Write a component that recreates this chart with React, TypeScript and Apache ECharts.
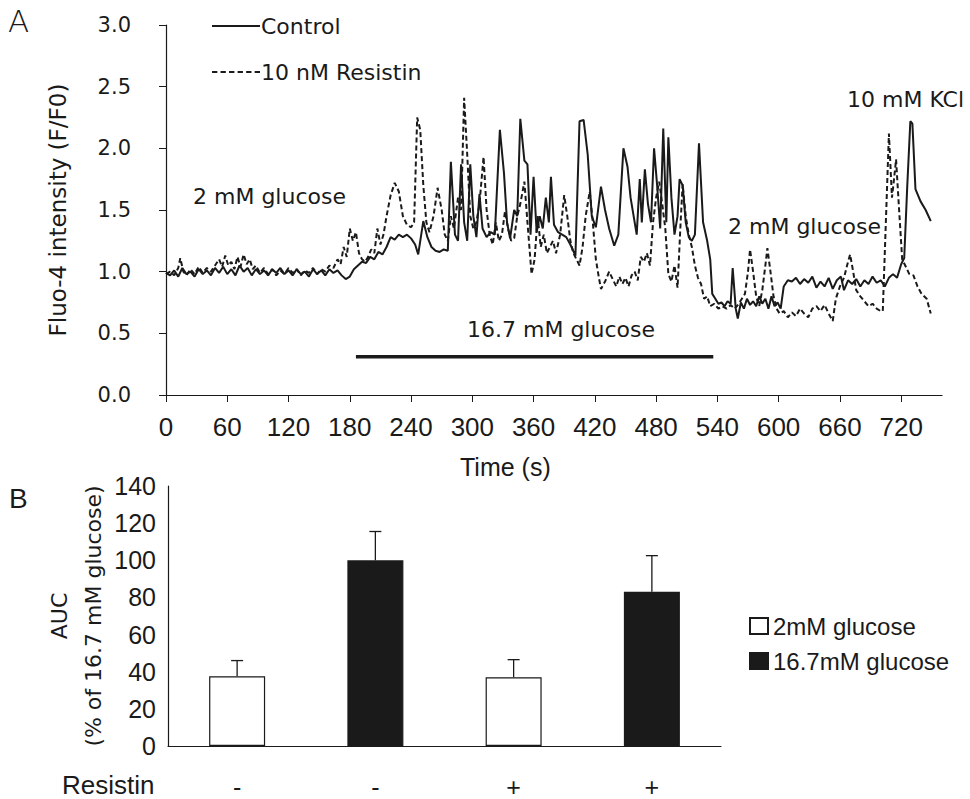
import React, { useEffect, useRef } from "react";
import * as echarts from "echarts";

// ---------- Panel A data (time in s, Fluo-4 F/F0) ----------
const controlTime = [
  0, 4, 8, 12, 16, 20, 24, 28, 32, 36, 40, 44, 48, 52, 56, 60, 64, 68, 72, 76, 80, 84, 88, 92, 96, 100,
  104, 108, 112, 116, 120, 124, 128, 132, 136, 140, 144, 148, 152, 156, 160, 164, 168, 172, 176, 180,
  184, 188, 192, 196, 200, 204, 208, 212, 216, 220, 224, 228, 232, 236, 240, 244, 247, 252, 256, 260,
  264, 268, 272, 276, 279, 283, 286, 289, 292, 295, 298, 301, 304, 307, 310, 314, 318, 322, 327, 331,
  334, 337, 341, 344, 347, 351, 354, 357, 360, 363, 366, 369, 372, 375, 377, 380, 384, 388, 392, 396,
  401, 405, 409, 413, 417, 421, 426, 430, 434, 439, 443, 448, 452, 455, 458, 461, 464, 466, 469, 472,
  475, 478, 481, 484, 487, 490, 492, 495, 498, 501, 503, 506, 509, 512, 515, 518, 522, 526, 530, 533,
  535, 538, 541, 544, 547, 550, 553, 555, 558, 560, 563, 566, 569, 572, 575, 578, 581, 584, 587, 590,
  593, 596, 599, 602, 605, 609, 613, 617, 621, 625, 629, 633, 637, 641, 645, 649, 653, 657, 661, 664,
  668, 672, 676, 680, 684, 688, 692, 696, 700, 704, 708, 712, 716, 720, 723, 726, 729, 731, 734, 739,
  744, 749,
];
const controlValue = [
  0.99, 0.97, 1.01, 0.96, 1.03, 0.98, 1.0, 0.96, 1.02, 0.98, 1.01, 0.97, 1.03, 0.99, 1.04, 0.98, 1.02, 0.97, 1.05, 1.0, 1.03, 0.97, 1.02, 0.98, 1.01, 0.97,
  1.02, 0.99, 1.03, 0.98, 1.01, 0.97, 1.02, 0.98, 1.0, 0.96, 1.02, 0.98, 1.01, 0.97, 1.02, 0.99, 1.01, 0.97, 0.94, 0.96,
  1.02, 1.05, 1.08, 1.07, 1.12, 1.1, 1.16, 1.14, 1.2, 1.28, 1.26, 1.3, 1.28, 1.3, 1.27, 1.22, 1.14, 1.41, 1.28, 1.2,
  1.17, 1.16, 1.18, 1.17, 1.89, 1.3, 1.25, 1.87, 1.4, 1.25, 1.87, 1.45, 1.28, 1.63, 1.35, 1.28, 1.32, 1.3, 2.15, 1.8,
  1.4, 1.27, 1.5, 1.45, 2.24, 1.9, 1.87, 1.3, 1.77, 1.32, 1.45, 1.35, 1.6, 1.4, 1.77, 1.38, 1.32, 1.3, 1.28, 1.22,
  1.13, 2.22, 2.23, 1.95, 1.45, 1.36, 1.69, 1.5, 1.35, 1.21, 1.3, 2.0, 1.85, 1.6, 1.45, 1.3, 1.75, 1.4, 1.83, 1.55,
  1.4, 2.0, 1.7, 1.35, 2.16, 1.4, 2.09, 1.6, 1.3, 1.45, 1.75, 1.7, 1.4, 1.28, 1.25, 1.3, 2.04, 1.4, 1.25, 1.1,
  0.82, 0.78, 0.74, 0.75, 0.72, 0.76, 0.74, 1.03, 0.7, 0.62, 0.75, 0.7, 0.78, 0.73, 0.76, 0.72, 0.8, 0.74, 0.78, 0.7,
  0.8, 0.72, 0.75, 0.7, 0.88, 0.93, 0.92, 0.95, 0.9, 0.94, 0.91, 0.96, 0.87, 0.92, 0.88, 0.95, 0.86, 0.93, 0.96, 0.85,
  0.93, 0.9, 0.94, 0.88, 0.93, 0.9, 0.96, 0.91, 0.93, 0.88, 0.95, 0.98, 0.95, 1.06, 1.11, 1.7, 2.22, 2.2, 1.67, 1.57,
  1.5, 1.41,
];

const resistinTime = [
  0, 4, 8, 12, 14, 17, 20, 24, 28, 32, 36, 40, 44, 48, 52, 55, 58, 61, 64, 67, 70, 73, 76, 79, 82, 85,
  88, 92, 96, 100, 104, 108, 112, 116, 120, 124, 128, 132, 136, 140, 144, 148, 152, 156, 160, 164, 168, 171,
  174, 177, 180, 183, 186, 189, 192, 195, 198, 201, 204, 207, 210, 213, 216, 220, 224, 228, 232, 236, 240, 243,
  246, 249, 252, 255, 258, 262, 266, 270, 273, 276, 279, 282, 286, 289, 292, 295, 298, 301, 304, 307, 311, 314,
  317, 320, 323, 326, 329, 332, 335, 338, 341, 344, 347, 351, 354, 358, 361, 364, 367, 370, 373, 376, 379, 382,
  386, 390, 393, 396, 399, 402, 405, 408, 411, 415, 418, 421, 424, 426, 430, 434, 438, 441, 444, 447, 450, 453,
  456, 459, 462, 465, 468, 471, 474, 477, 480, 483, 486, 489, 492, 495, 498, 501, 504, 506, 509, 512, 515, 518,
  521, 524, 527, 530, 533, 537, 541, 545, 549, 553, 557, 561, 564, 567, 570, 572, 575, 578, 581, 584, 587, 589,
  592, 595, 598, 601, 605, 609, 613, 617, 621, 625, 629, 633, 637, 641, 645, 649, 653, 656, 660, 664, 667, 670,
  673, 676, 680, 684, 688, 692, 696, 700, 702, 705, 708, 711, 713, 715, 718, 721, 724, 728, 732, 736, 740, 745,
  749,
];
const resistinValue = [
  0.98, 1.0, 0.97, 1.03, 1.11, 1.0, 0.97, 1.02, 0.98, 1.04, 0.99, 1.03, 1.0, 1.05, 1.1, 1.04, 1.13, 1.05, 1.08, 1.02, 1.12, 1.04, 1.14, 1.06, 1.1, 1.02,
  1.05, 0.99, 1.03, 0.98, 1.02, 0.97, 1.01, 0.98, 1.03, 0.99, 1.02, 0.97, 1.01, 0.99, 1.03, 0.98, 1.02, 1.0, 1.05, 1.03, 1.1, 1.06,
  1.2, 1.12, 1.35, 1.25, 1.32, 1.15, 1.1, 1.08, 1.12, 1.18, 1.15, 1.35, 1.22, 1.3, 1.45, 1.62, 1.72, 1.65, 1.45, 1.38, 1.36, 1.4,
  2.25, 2.15, 1.7, 1.4, 1.32, 1.45, 1.68, 1.5, 1.3, 1.25, 1.45, 1.35, 1.6, 1.5, 2.41, 1.95, 1.45, 1.35, 1.4, 1.55, 1.93, 1.5,
  1.3, 1.22, 1.4, 1.25, 1.3, 1.49, 1.35, 1.25, 1.27, 1.45, 1.55, 1.73, 1.4, 0.98, 1.1, 1.45, 1.2, 1.3, 1.15, 1.2, 1.25, 1.15,
  1.3, 1.62, 1.45, 1.25, 1.15, 1.1, 1.05, 1.2, 1.45, 1.65, 1.4, 1.1, 0.95, 0.86, 0.92, 1.0, 0.93, 0.88, 0.96, 0.9, 0.95, 0.88,
  0.97, 1.0, 0.93, 1.12, 1.08, 1.15, 1.05, 1.4, 1.6, 1.73, 1.55, 1.35, 0.98, 0.92, 1.05, 0.87, 1.4, 1.71, 1.45, 1.3, 1.2, 1.05,
  0.95, 0.9, 0.78, 0.8, 0.72, 0.74, 0.7, 0.72, 0.7, 0.73, 0.7, 0.74, 0.78, 0.82, 1.0, 1.18, 1.0, 0.8, 0.72, 0.85, 1.05, 1.19,
  1.0, 0.8, 0.7, 0.66, 0.68, 0.63, 0.67, 0.64, 0.7, 0.66, 0.63, 0.7, 0.72, 0.68, 0.73, 0.66, 0.6, 0.78, 0.88, 0.95, 1.05, 1.14,
  1.0, 0.85, 0.8, 0.76, 0.72, 0.74, 0.7, 0.68, 0.68, 1.4, 2.12, 1.6, 1.75, 1.91, 1.5, 1.1, 1.05, 0.98, 0.97, 0.88, 0.82, 0.78,
  0.66,
];

// 16.7 mM glucose application period bar
const highGlucoseTime = [186, 536];
const highGlucoseLevel = [0.31, 0.31];

const timeTicks = [0, 60, 120, 180, 240, 300, 360, 420, 480, 540, 600, 660, 720];

// ---------- Panel B data ----------
const resistinCats = ["-", "-", "+", "+"];
const barGroup = ["2mM glucose", "16.7mM glucose", "2mM glucose", "16.7mM glucose"];
const aucMean = [37.5, 100, 37, 83];
const aucErr = [8.5, 15.5, 9.5, 19.5];
const legendNames = ["2mM glucose", "16.7mM glucose"];

const INK = "#1a1a1a";
const SANS = "'DejaVu Sans', Verdana, sans-serif";
const ARIAL = "'Liberation Sans', Arial, sans-serif";
const NARROW = "'Liberation Sans Narrow', 'Liberation Sans', Arial, sans-serif";

const SOLID_ICON = "path://M0,0h48v2h-48z";
const DASH_ICON =
  "path://" +
  [0, 8, 16, 24, 32, 40].map((x) => `M${x},0h5v2h-5z`).join("");

export default function App() {
  const ref = useRef<HTMLDivElement>(null);

  useEffect(() => {
    if (!ref.current) return;
    const chart = echarts.init(ref.current, undefined, { renderer: "svg" });

    const ctrl = controlTime.map((t, i) => [t, controlValue[i]]);
    const resi = resistinTime.map((t, i) => [t, resistinValue[i]]);
    const hg = highGlucoseTime.map((t, i) => [t, highGlucoseLevel[i]]);

    const lowData = aucMean.map((v, i) => (barGroup[i] === legendNames[0] ? v : "-"));
    const highData = aucMean.map((v, i) => (barGroup[i] === legendNames[1] ? v : "-"));
    const errData = aucMean.map((v, i) => [i, v, aucErr[i]]);

    const option: any = {
      animation: false,
      backgroundColor: "#fff",
      grid: [
        { left: 166, right: 28, top: 25, bottom: 404, outerBoundsMode: "none" },
        { left: 168, right: 249, top: 486, bottom: 53, outerBoundsMode: "none" },
      ],
      legend: [
        {
          orient: "vertical",
          left: 207,
          top: 10,
          itemWidth: 48,
          itemHeight: 2,
          symbolKeepAspect: false,
          itemGap: 24,
          data: [
            { name: "Control", icon: SOLID_ICON },
            { name: "10 nM Resistin", icon: DASH_ICON },
          ],
          textStyle: { fontFamily: SANS, fontSize: 22, color: INK, padding: [0, 0, 0, -4] },
          selectedMode: false,
        },
        {
          orient: "vertical",
          left: 744,
          top: 609,
          itemWidth: 18,
          itemHeight: 16,
          itemGap: 11,
          icon: "rect",
          data: legendNames,
          textStyle: { fontFamily: ARIAL, fontSize: 24, color: INK },
          selectedMode: false,
        },
      ],
      xAxis: [
        {
          type: "value",
          gridIndex: 0,
          min: 0,
          max: 760,
          interval: 60,
          axisLine: { lineStyle: { color: INK, width: 1.2 } },
          axisTick: { show: true, inside: false, length: 7, lineStyle: { color: INK }, customValues: timeTicks },
          axisLabel: { fontFamily: NARROW, fontSize: 26, color: INK, margin: 19, customValues: timeTicks },
          splitLine: { show: false },
        },
        {
          type: "category",
          gridIndex: 1,
          data: resistinCats,
          axisLine: { lineStyle: { color: INK, width: 1.2 } },
          axisTick: { show: false },
          axisLabel: { fontFamily: ARIAL, fontSize: 25, color: INK, margin: 28 },
          splitLine: { show: false },
        },
      ],
      yAxis: [
        {
          type: "value",
          gridIndex: 0,
          min: 0,
          max: 3,
          interval: 0.5,
          name: "Fluo-4 intensity (F/F0)",
          nameLocation: "middle",
          nameRotate: 90,
          nameGap: 97,
          nameMoveOverlap: false,
          nameTextStyle: { fontFamily: SANS, fontSize: 23, color: INK },
          axisLine: { show: true, lineStyle: { color: INK, width: 1.2 } },
          axisTick: { show: true, inside: false, length: 7, lineStyle: { color: INK } },
          axisLabel: { fontFamily: SANS, fontSize: 21, color: INK, margin: 35, formatter: (v: number) => v.toFixed(1) },
          splitLine: { show: false },
        },
        {
          type: "value",
          gridIndex: 1,
          min: 0,
          max: 140,
          interval: 20,
          name: "AUC\n(% of 16.7 mM glucose)",
          nameLocation: "middle",
          nameRotate: 90,
          nameGap: 58,
          nameMoveOverlap: false,
          nameTextStyle: { fontFamily: SANS, fontSize: 22, color: INK, lineHeight: 34 },
          axisLine: { show: true, lineStyle: { color: INK, width: 1.2 } },
          axisTick: { show: false },
          axisLabel: { fontFamily: NARROW, fontSize: 25, color: INK, margin: 12 },
          splitLine: { show: false },
        },
      ],
      series: [
        {
          name: "10 nM Resistin",
          type: "line",
          xAxisIndex: 0,
          yAxisIndex: 0,
          data: resi,
          symbol: "none",
          z: 2,
          lineStyle: { color: INK, width: 2, type: [5, 3] },
          itemStyle: { color: INK },
        },
        {
          name: "Control",
          type: "line",
          xAxisIndex: 0,
          yAxisIndex: 0,
          data: ctrl,
          symbol: "none",
          z: 3,
          lineStyle: { color: INK, width: 2, type: "solid" },
          itemStyle: { color: INK },
        },
        {
          name: "16.7 mM glucose period",
          type: "line",
          xAxisIndex: 0,
          yAxisIndex: 0,
          data: hg,
          symbol: "none",
          lineStyle: { color: INK, width: 3.5 },
          silent: true,
        },
        {
          name: legendNames[0],
          type: "bar",
          xAxisIndex: 1,
          yAxisIndex: 1,
          data: lowData,
          barWidth: 56,
          barGap: "-100%",
          itemStyle: { color: "#ffffff", borderColor: INK, borderWidth: 1.2 },
        },
        {
          name: legendNames[1],
          type: "bar",
          xAxisIndex: 1,
          yAxisIndex: 1,
          data: highData,
          barWidth: 56,
          barGap: "-100%",
          itemStyle: { color: INK, borderColor: INK, borderWidth: 1.2 },
        },
        {
          type: "custom",
          xAxisIndex: 1,
          yAxisIndex: 1,
          data: errData,
          encode: { x: 0, y: 1 },
          z: 5,
          renderItem: (params: any, api: any) => {
            const i = api.value(0);
            const v = api.value(1);
            const e = api.value(2);
            const base = api.coord([i, v]);
            const top = api.coord([i, v + e]);
            const hw = 6;
            return {
              type: "group",
              children: [
                { type: "line", shape: { x1: base[0], y1: base[1], x2: top[0], y2: top[1] }, style: { stroke: INK, lineWidth: 1.3 } },
                { type: "line", shape: { x1: top[0] - hw, y1: top[1], x2: top[0] + hw, y2: top[1] }, style: { stroke: INK, lineWidth: 1.3 } },
              ],
            };
          },
        },
      ],
      graphic: [
        { type: "text", left: 8, top: 5, style: { text: "A", fontFamily: SANS, fontSize: 31, fontWeight: 200, fill: INK } },
        { type: "text", left: 9, top: 484, style: { text: "B", fontFamily: NARROW, fontSize: 28, fill: INK } },
        { type: "text", left: 193, top: 185, style: { text: "2 mM glucose", fontFamily: SANS, fontSize: 22, fill: INK } },
        { type: "text", left: 728, top: 215, style: { text: "2 mM glucose", fontFamily: SANS, fontSize: 22, fill: INK } },
        { type: "text", left: 847, top: 88, style: { text: "10 mM KCl", fontFamily: SANS, fontSize: 22, fill: INK } },
        { type: "text", left: 467, top: 318, style: { text: "16.7 mM glucose", fontFamily: SANS, fontSize: 22, fill: INK } },
        { type: "text", left: 460, top: 454, style: { text: "Time (s)", fontFamily: NARROW, fontSize: 25, fill: INK } },
        { type: "text", left: 62, top: 772, style: { text: "Resistin", fontFamily: ARIAL, fontSize: 26, fill: INK } },
      ],
    };

    chart.setOption(option);
    return () => chart.dispose();
  }, []);

  return (
    <div
      ref={ref}
      style={{ position: "absolute", left: 0, top: 0, width: 970, height: 799, background: "#fff" }}
    />
  );
}
